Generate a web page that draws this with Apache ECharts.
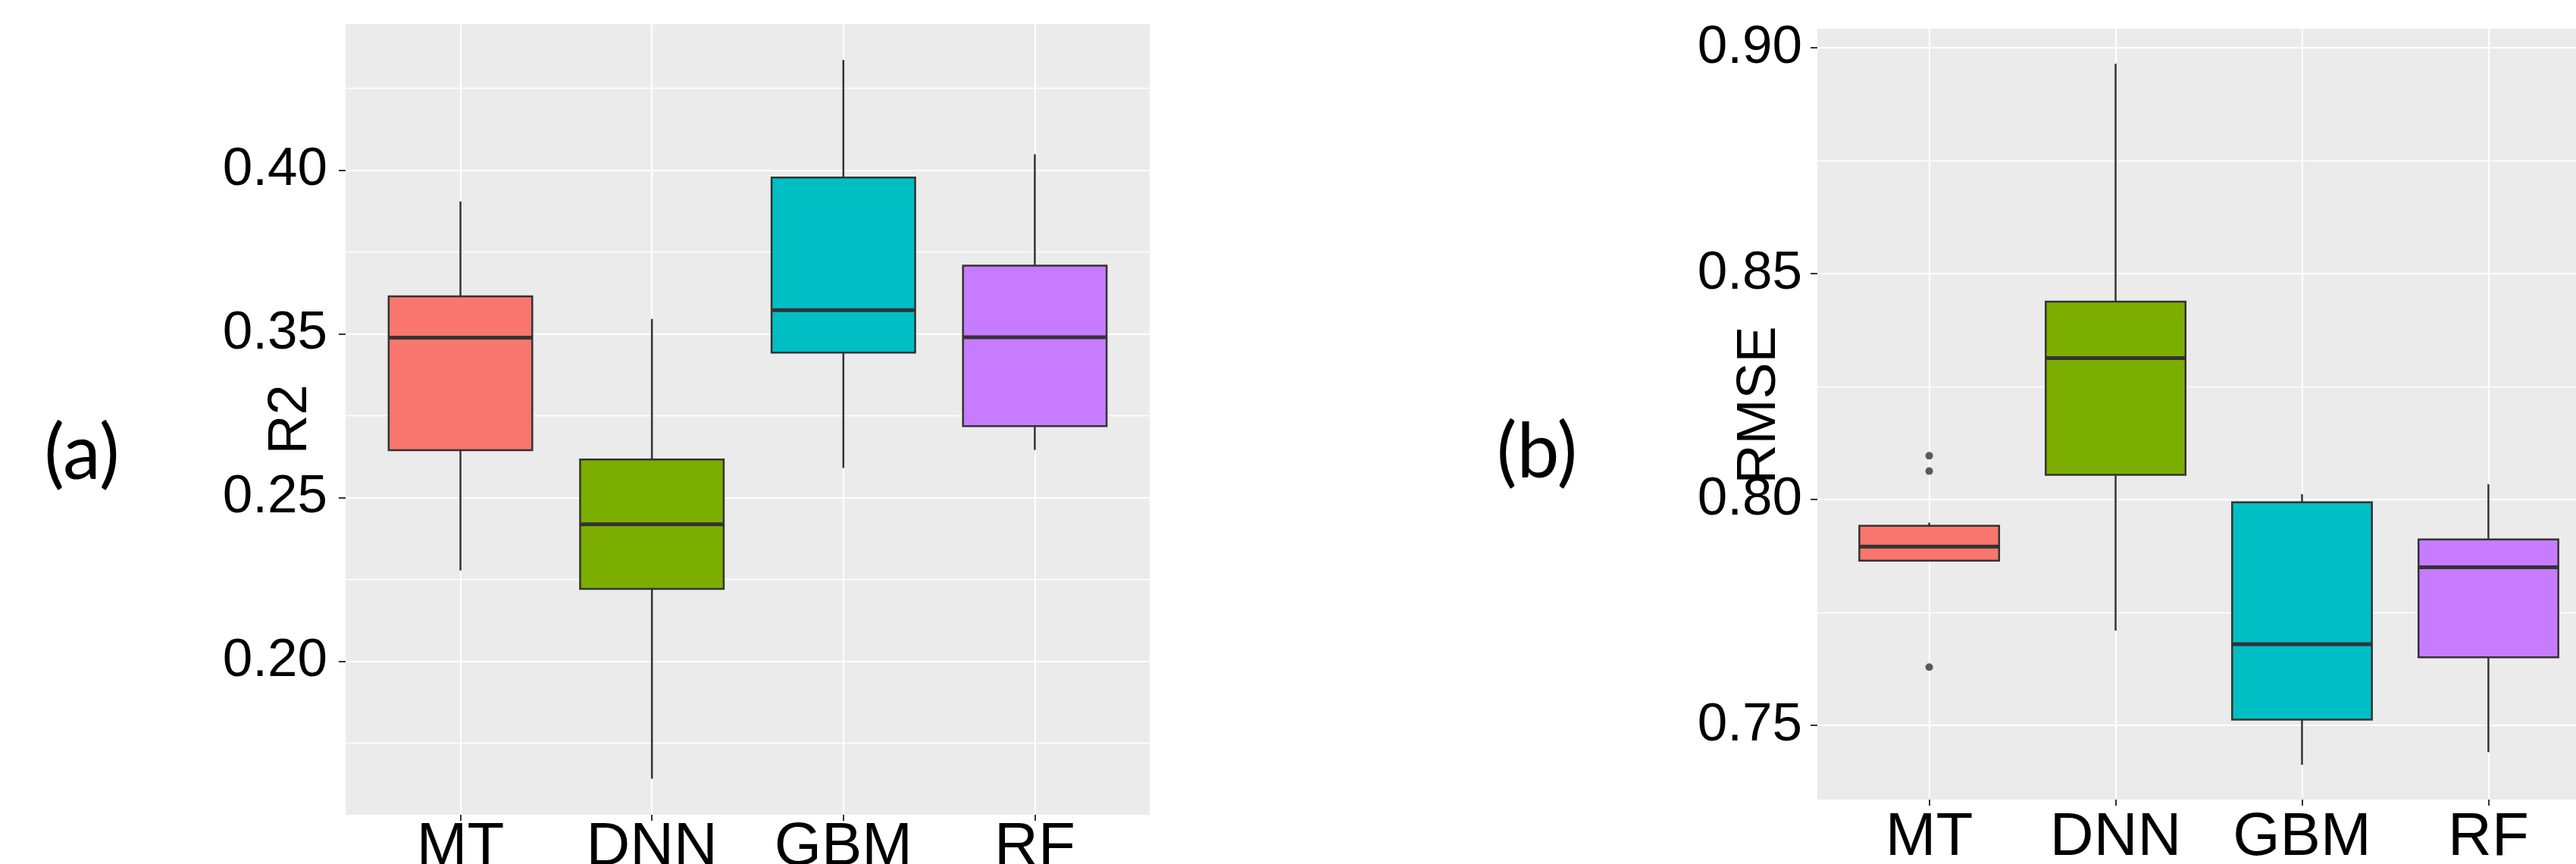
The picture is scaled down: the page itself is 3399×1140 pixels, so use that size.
<!DOCTYPE html>
<html lang="en">
<head>
    <meta charset="UTF-8">
    <title>R2 / RMSE boxplots</title>
    <script src="https://cdn.jsdelivr.net/npm/echarts@6/dist/echarts.min.js"></script>
    <style>
        html, body { margin: 0; padding: 0; background: #fff; }
    </style>
</head>
<body>
<div id="myChart" style="width: 3399px;height: 1140px;"></div>
<script>
    var models = ['MT', 'DNN', 'GBM', 'RF'];
    var boxColors = ['#F8766D', '#7CAE00', '#00BFC4', '#C77CFF'];

    // (a) R2 - whisker low, Q1, median, Q3, whisker high
    var r2Low    = [0.2277, 0.1641, 0.2590, 0.2645];
    var r2Q1     = [0.2644, 0.2221, 0.2942, 0.2718];
    var r2Median = [0.2988, 0.2418, 0.3072, 0.2989];
    var r2Q3     = [0.3114, 0.2616, 0.3477, 0.3208];
    var r2High   = [0.3404, 0.3045, 0.3836, 0.3548];
    var r2Ticks      = [0.20, 0.25, 0.30, 0.35];
    var r2TickLabels = ['0.20', '0.25', '0.35', '0.40'];

    // (b) RMSE
    var rmseLow    = [0.7865, 0.7710, 0.7413, 0.7441];
    var rmseQ1     = [0.7865, 0.8055, 0.7513, 0.7651];
    var rmseMedian = [0.7896, 0.8313, 0.7680, 0.7850];
    var rmseQ3     = [0.7942, 0.8438, 0.7994, 0.7912];
    var rmseHigh   = [0.7949, 0.8965, 0.8012, 0.8034];
    var rmseOutliers = [[0, 0.8097], [0, 0.8063], [0, 0.7629]];
    var rmseTicks      = [0.75, 0.80, 0.85, 0.90];
    var rmseTickLabels = ['0.75', '0.80', '0.85', '0.90'];

    // panel rects (ggplot style: 0.6 category padding each side)
    var panelA = {left: 456, top: 32, width: 1061, height: 1043, yMin: 0.1531, yMax: 0.3945};
    var panelB = {left: 2398, top: 38, width: 1033, height: 1017, yMin: 0.7336, yMax: 0.9042};

    var tickFont = 'Liberation Sans, Arial, sans-serif';

    function boxData(lo, q1, med, q3, hi) {
        var out = [];
        for (var i = 0; i < lo.length; i++) {
            out.push([i, lo[i], q1[i], med[i], q3[i], hi[i]]);
        }
        return out;
    }

    function tickFormatter(ticks, labels) {
        return function (v) {
            for (var i = 0; i < ticks.length; i++) {
                if (Math.abs(v - ticks[i]) < 1e-6) return labels[i];
            }
            return '';
        };
    }

    function renderBox(params, api) {
        var i = api.value(0);
        var lo = api.coord([i, api.value(1)]);
        var q1 = api.coord([i, api.value(2)]);
        var med = api.coord([i, api.value(3)]);
        var q3 = api.coord([i, api.value(4)]);
        var hi = api.coord([i, api.value(5)]);
        var bw = api.size([1, 0])[0] * 0.75;
        var cx = med[0];
        var edge = '#333333';
        return {
            type: 'group',
            children: [
                {type: 'line', shape: {x1: cx, y1: hi[1], x2: cx, y2: q3[1]}, style: {stroke: edge, lineWidth: 2.5}},
                {type: 'line', shape: {x1: cx, y1: q1[1], x2: cx, y2: lo[1]}, style: {stroke: edge, lineWidth: 2.5}},
                {type: 'rect', shape: {x: cx - bw / 2, y: q3[1], width: bw, height: q1[1] - q3[1]},
                    style: {fill: boxColors[i], stroke: edge, lineWidth: 2.5}},
                {type: 'line', shape: {x1: cx - bw / 2, y1: med[1], x2: cx + bw / 2, y2: med[1]},
                    style: {stroke: edge, lineWidth: 5}}
            ]
        };
    }

    function bgGrid(p) {
        return {left: p.left, top: p.top, width: p.width, height: p.height, outerBoundsMode: 'none',
            show: true, backgroundColor: '#EBEBEB', borderWidth: 0, containLabel: false};
    }
    function fgGrid(p) {
        var inset = p.width * 0.1 / 4.2;
        return {left: p.left + inset, top: p.top, width: p.width - 2 * inset, height: p.height,
            outerBoundsMode: 'none', show: false, containLabel: false};
    }

    function bgYAxis(p, gi, name, ticks, labels, margin, nameGap, namePad) {
        return {
            type: 'value', gridIndex: gi, min: p.yMin, max: p.yMax, splitNumber: 4,
            name: name, nameLocation: 'middle', nameGap: nameGap, nameMoveOverlap: false,
            nameTextStyle: {fontSize: 72, color: '#000', fontFamily: tickFont, padding: [0, 0, 0, namePad]},
            axisLine: {show: false},
            axisTick: {show: true, length: 9, customValues: ticks, lineStyle: {color: '#333', width: 2}},
            axisLabel: {fontSize: 71, color: '#000', fontFamily: tickFont, margin: margin,
                customValues: ticks, formatter: tickFormatter(ticks, labels)},
            splitLine: {show: true, lineStyle: {color: '#fff', width: 2.2}},
            minorTick: {show: false, splitNumber: 2},
            minorSplitLine: {show: true, lineStyle: {color: '#fff', width: 1.3}}
        };
    }
    function fgYAxis(p, gi) {
        return {type: 'value', gridIndex: gi, min: p.yMin, max: p.yMax, show: false};
    }
    function fgXAxis(gi, margin) {
        return {
            type: 'category', gridIndex: gi, data: models, boundaryGap: true,
            axisLine: {show: false},
            axisTick: {show: true, alignWithLabel: true, length: 8, lineStyle: {color: '#333', width: 2}},
            axisLabel: {fontSize: 80, color: '#000', fontFamily: tickFont, margin: margin},
            splitLine: {show: true, alignWithLabel: true, lineStyle: {color: '#fff', width: 2.2}}
        };
    }

    var myChart = echarts.init(document.getElementById('myChart'));
    var option = {
        animation: false,
        backgroundColor: '#fff',
        grid: [bgGrid(panelA), fgGrid(panelA), bgGrid(panelB), fgGrid(panelB)],
        xAxis: [
            {type: 'value', gridIndex: 0, min: 0, max: 1, show: false},
            fgXAxis(1, 4),
            {type: 'value', gridIndex: 2, min: 0, max: 1, show: false},
            fgXAxis(3, 11)
        ],
        yAxis: [
            bgYAxis(panelA, 0, 'R2', r2Ticks, r2TickLabels, 24, 36, 0),
            fgYAxis(panelA, 1),
            bgYAxis(panelB, 2, 'RMSE', rmseTicks, rmseTickLabels, 20, 40, 24),
            fgYAxis(panelB, 3)
        ],
        series: [
            {
                name: 'R2', type: 'custom', xAxisIndex: 1, yAxisIndex: 1,
                renderItem: renderBox, encode: {x: 0, y: [1, 2, 3, 4, 5]},
                data: boxData(r2Low, r2Q1, r2Median, r2Q3, r2High), z: 3
            },
            {
                name: 'RMSE', type: 'custom', xAxisIndex: 3, yAxisIndex: 3,
                renderItem: renderBox, encode: {x: 0, y: [1, 2, 3, 4, 5]},
                data: boxData(rmseLow, rmseQ1, rmseMedian, rmseQ3, rmseHigh), z: 3
            },
            {
                name: 'RMSE outliers', type: 'scatter', xAxisIndex: 3, yAxisIndex: 3,
                symbol: 'circle', symbolSize: 10, itemStyle: {color: '#333333'},
                data: rmseOutliers, z: 4
            }
        ],
        graphic: [
            {type: 'text', x: 108, y: 600, style: {text: '(a)', fontSize: 100, fontFamily: 'Lato, Open Sans, sans-serif',
                fill: '#000', align: 'center', verticalAlign: 'middle'}},
            {type: 'text', x: 2028, y: 598, style: {text: '(b)', fontSize: 100, fontFamily: 'Lato, Open Sans, sans-serif',
                fill: '#000', align: 'center', verticalAlign: 'middle'}}
        ]
    };
    myChart.setOption(option);
</script>
</body>
</html>
